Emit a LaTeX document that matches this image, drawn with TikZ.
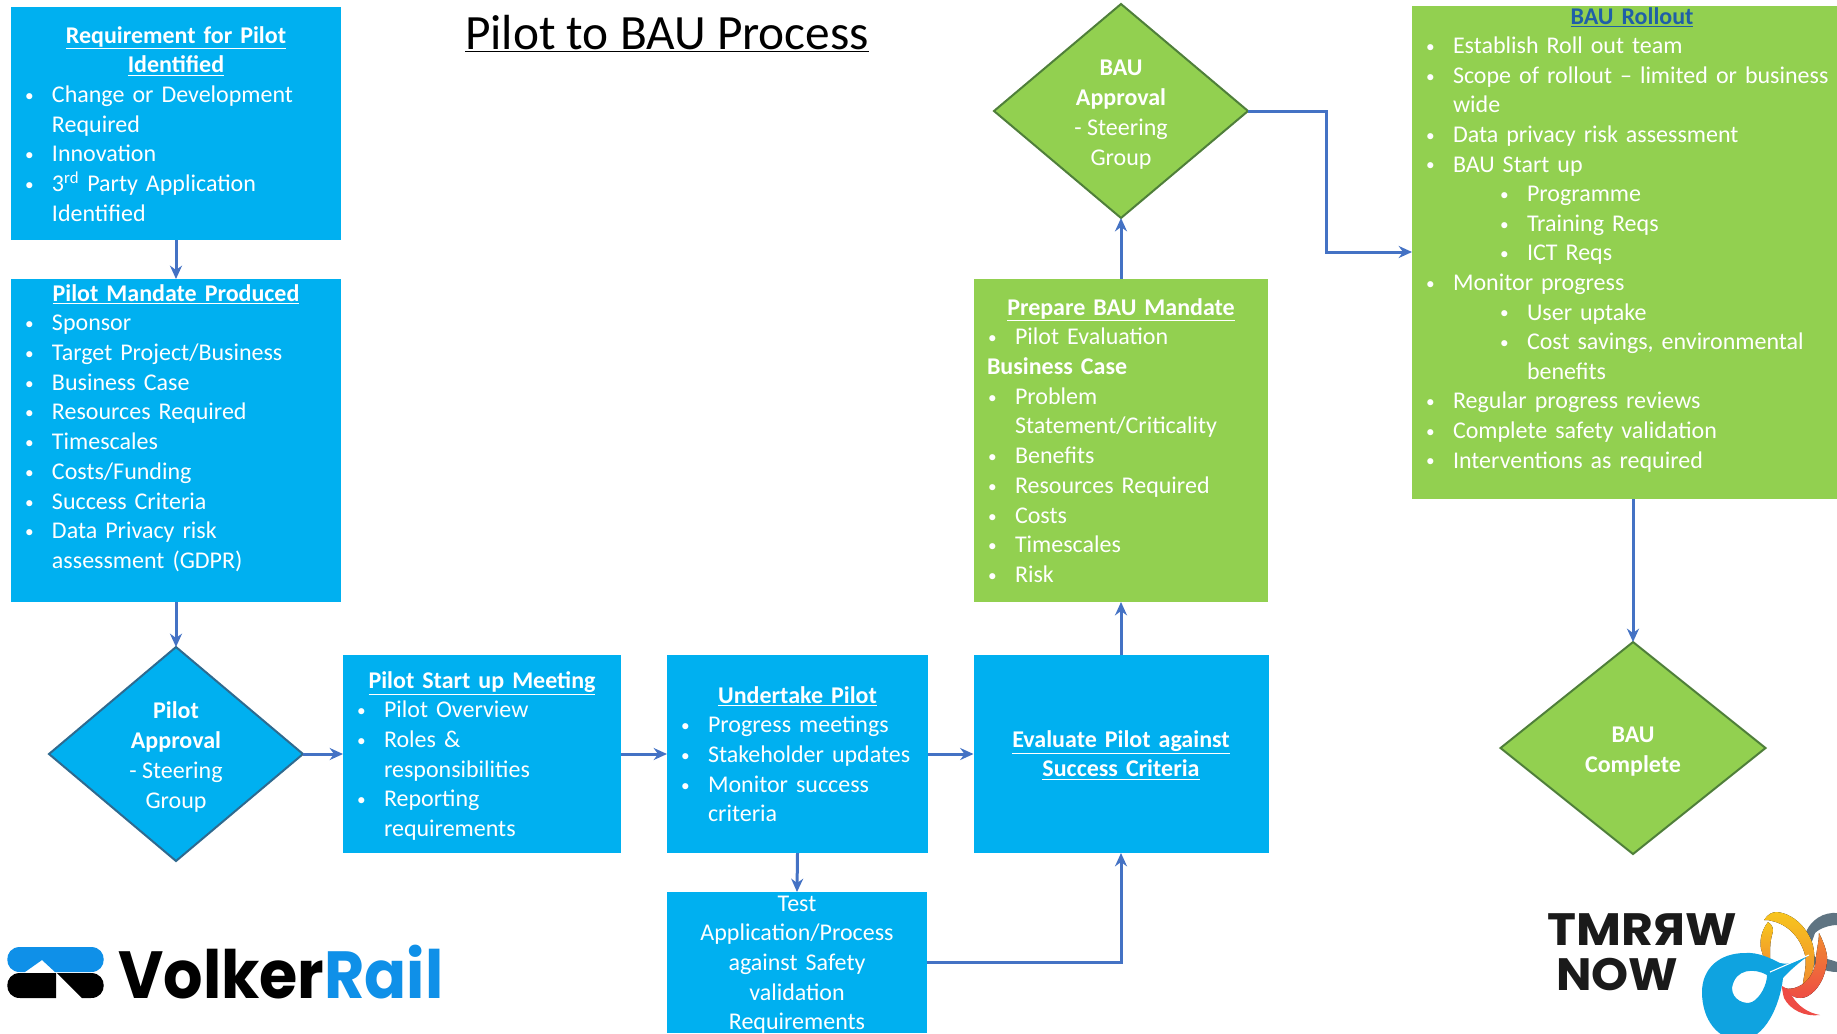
\documentclass[tikz,border=0pt]{standalone}
\usepackage{fontspec}
\usepackage{graphicx}
\usetikzlibrary{shapes.geometric,arrows.meta,calc}
\setmainfont{Carlito}
\newfontfamily\logofont{Poppins}
\newdimen\pxu \pxu=0.75pt
\definecolor{pblue}{HTML}{00B0F0}
\definecolor{pgreen}{HTML}{92D050}
\definecolor{pline}{HTML}{4472C4}
\definecolor{pedge}{HTML}{2F6A8F}
\definecolor{gedge}{HTML}{4F7F3A}
\definecolor{headblue}{HTML}{1F5FA8}
\definecolor{vrblue}{HTML}{0F90E8}
\definecolor{logoblue}{HTML}{0FA3E0}
\definecolor{logogrey}{HTML}{5F7482}
\definecolor{logoyellow}{HTML}{F7C51E}
\definecolor{logoorange}{HTML}{F08A30}
\definecolor{logored}{HTML}{EE4B45}
\definecolor{logoink}{HTML}{1A1A1A}
\newcommand{\hd}[1]{\makebox[\linewidth][c]{\textbf{\underline{#1}}}}
\newcommand{\cn}[1]{\makebox[\linewidth][c]{#1}}
\newcommand{\dotb}{\raisebox{0.8pt}{\scalebox{0.72}{•}}}
\newcommand{\bl}[1]{\hspace*{14\pxu}\makebox[27\pxu][l]{\dotb}#1}
\newcommand{\ct}[1]{\hspace*{41\pxu}#1}
\newcommand{\sbl}[1]{\hspace*{88\pxu}\makebox[27\pxu][l]{\dotb}#1}
\newcommand{\sct}[1]{\hspace*{115\pxu}#1}
\newcommand{\dstrut}{\rule{0pt}{17pt}}
\tikzset{
  x=0.75pt,y=-0.75pt,
  txt/.style={font=\fontsize{18}{22.3}\selectfont,text=white},
  bx/.style n args={3}{txt,rectangle,inner sep=0pt,outer sep=0pt,align=left,
     text width=#1*\pxu,text height=#3*\pxu,text depth=(#2-#3)*\pxu},
  bluebox/.style={fill=pblue},
  greenbox/.style={fill=pgreen},
  dia/.style={txt,diamond,aspect=1.19,inner sep=0pt,outer sep=0pt,align=center,
     minimum width=254*\pxu,minimum height=214*\pxu,line width=1.5pt},
  conn/.style={draw=pline,line width=2.25pt,-{Stealth[length=10pt,width=9pt]}},
  logotext/.style={anchor=base west,inner sep=0pt,text=logoink,font=\logofont\bfseries\fontsize{34}{34}\selectfont},
}
\begin{document}
\begin{tikzpicture}
\useasboundingbox (0,0) rectangle (1837,1033);
\fill[white] (0,0) rectangle (1837,1033);

\node[font=\fontsize{37}{42}\selectfont,text=black,anchor=base] (title) at (667,49.5) {\underline{Pilot to BAU Process}};

\node[bx={330}{233}{36},bluebox] (req) at (176,123.5) {\hd{Requirement for Pilot}\\\hd{Identified}\\
\bl{Change or Development}\\\ct{Required}\\\bl{Innovation}\\\bl{3\textsuperscript{rd} Party Application}\\\ct{Identified}};

\node[bx={330}{323}{22},bluebox] (mandate) at (176,440.5) {\hd{Pilot Mandate Produced}\\
\bl{Sponsor}\\\bl{Target Project/Business}\\\bl{Business Case}\\\bl{Resources Required}\\\bl{Timescales}\\\bl{Costs/Funding}\\\bl{Success Criteria}\\\bl{Data Privacy risk}\\\ct{assessment (GDPR)}};

\node[dia,fill=pblue,draw=pedge] (papp) at (176,754) {\dstrut\textbf{Pilot}\\\textbf{Approval}\\- Steering\\Group};

\node[bx={278}{198}{33},bluebox] (start) at (482,754) {\hd{Pilot Start up Meeting}\\
\bl{Pilot Overview}\\\bl{Roles \&}\\\ct{responsibilities}\\\bl{Reporting}\\\ct{requirements}};

\node[bx={261}{198}{48},bluebox] (under) at (797.5,754) {\hd{Undertake Pilot}\\
\bl{Progress meetings}\\\bl{Stakeholder updates}\\\bl{Monitor success}\\\ct{criteria}};

\node[bx={295}{198}{92},bluebox] (eval) at (1121,754) {\hd{Evaluate Pilot against}\\\hd{Success Criteria}};

\node[bx={260}{141}{19},bluebox] (test) at (797,962.5) {\cn{Test}\\\cn{Application/Process}\\\cn{against Safety}\\\cn{validation}\\\cn{Requirements}};

\node[bx={294}{323}{36},greenbox] (prep) at (1121,440.5) {\hd{Prepare BAU Mandate}\\
\bl{Pilot Evaluation}\\\hspace*{13\pxu}\textbf{Business Case}\\\bl{Problem}\\\ct{Statement/Criticality}\\\bl{Benefits}\\\bl{Resources Required}\\\bl{Costs}\\\bl{Timescales}\\\bl{Risk}};

\node[dia,fill=pgreen,draw=gedge] (bapp) at (1121,111) {\dstrut\textbf{BAU}\\\textbf{Approval}\\- Steering\\Group};

\node[bx={425}{493}{18},greenbox,font=\fontsize{18}{22.2}\selectfont] (roll) at (1624.5,252.5) {\makebox[\dimexpr\linewidth+15\pxu\relax][c]{\color{headblue}\textbf{\underline{BAU Rollout}}}\\
\bl{Establish Roll out team}\\\bl{Scope of rollout -- limited or business}\\\ct{wide}\\\bl{Data privacy risk assessment}\\\bl{BAU Start up}\\\sbl{Programme}\\\sbl{Training Reqs}\\\sbl{ICT Reqs}\\\bl{Monitor progress}\\\sbl{User uptake}\\\sbl{Cost savings, environmental}\\\sct{benefits}\\\bl{Regular progress reviews}\\\bl{Complete safety validation}\\\bl{Interventions as required}};

\node[dia,fill=pgreen,draw=gedge,minimum width=265*\pxu,minimum height=212*\pxu] (bcomp) at (1633,748) {\dstrut\textbf{BAU}\\\textbf{Complete}};

\coordinate (bend) at (1326,252);
\draw[conn] (req.south) -- (mandate.north);
\draw[conn] (mandate.south) -- (papp.north);
\draw[conn] (papp.east) -- (start.west);
\draw[conn] (start.east) -- (under.west);
\draw[conn] (under.east) -- (eval.west);
\draw[conn] (under.south) -- (test.north);
\draw[conn] (test.east) -| (eval.south);
\draw[conn] (eval.north) -- (prep.south);
\draw[conn] (prep.north) -- (bapp.south);
\draw[conn] (bapp.east) -| (bend) -- (roll.west |- bend);
\draw[conn] (roll.south -| bcomp.north) -- (bcomp.north);

% VolkerRail logo
\fill[vrblue] (20,947) -- (91,947) .. controls (108,947) and (108,972) .. (91,972)
  -- (55,972) -- (42,960) -- (25,972) -- (20,972) .. controls (3,972) and (3,947) .. (20,947) -- cycle;
\fill[black] (56,973) -- (20,973) .. controls (3,973) and (3,998) .. (20,998) -- (56,998) -- cycle;
\fill[black] (57,973) -- (91,973) .. controls (108,973) and (108,998) .. (91,998) -- (82,998) -- cycle;
\node[anchor=base west,inner sep=0pt,font=\logofont\bfseries\fontsize{50}{50}\selectfont] (vr) at (118,998) {\scalebox{0.93}[1]{Volker\textcolor{vrblue}{Rail}}};

% TMRRW NOW logo
\node[logotext] (tmrrw) at (1547,945) {\scalebox{1.08}[1]{TMR\reflectbox{R}W}};
\node[logotext] (now) at (1556,990) {\scalebox{1.04}[1]{NOW}};
\fill[logogrey] (1837,913) .. controls (1825,912) and (1810,918) .. (1804,937) -- (1809,952) -- (1817,958) .. controls (1825,958) and (1832,960) .. (1837,962) -- (1837,972) .. controls (1825,972) and (1812,966) .. (1806,958) -- (1815,933) .. controls (1820,928) and (1830,925) .. (1837,925) -- cycle;
\fill[top color=logoyellow,bottom color=logoorange] (1764,920) .. controls (1768,914) and (1772,912) .. (1777,912) .. controls (1797,914) and (1813,935) .. (1814,952) .. controls (1816,968) and (1810,980) .. (1802,989) .. controls (1804,975) and (1807,965) .. (1805,955) .. controls (1801,940) and (1790,925) .. (1772,921) .. controls (1770,920) and (1767,920) .. (1764,920) -- cycle;
\fill[top color=logoyellow,bottom color=logoorange] (1768,922) .. controls (1760,932) and (1759,945) .. (1762,952) .. controls (1764,960) and (1768,968) .. (1771,972) .. controls (1770,960) and (1769,945) .. (1772,935) .. controls (1774,930) and (1773,925) .. (1768,922) -- cycle;
\fill[top color=logoorange,bottom color=logored] (1819,933) .. controls (1825,945) and (1828,955) .. (1827,962) .. controls (1825,978) and (1818,990) .. (1808,996) .. controls (1798,1001) and (1790,996) .. (1784,988) .. controls (1790,990) and (1797,988) .. (1803,984) .. controls (1811,978) and (1816,968) .. (1816,957) .. controls (1817,948) and (1819,940) .. (1819,933) -- cycle;
\fill[logored] (1782,986) .. controls (1790,990) and (1790,993) .. (1792,996) .. controls (1798,1006) and (1808,1013) .. (1820,1015) .. controls (1805,1017) and (1790,1010) .. (1784,998) .. controls (1783,994) and (1782,990) .. (1782,986) -- cycle;
\fill[logoblue,even odd rule]
  (1809,955) .. controls (1795,962) and (1790,965) .. (1780,963) .. controls (1770,958) and (1758,952) .. (1745,953) .. controls (1720,953) and (1702,968) .. (1702,992) .. controls (1702,1020) and (1718,1040) .. (1740,1040) .. controls (1765,1040) and (1780,1005) .. (1783,978) .. controls (1790,970) and (1800,962) .. (1809,955) -- cycle
  (1767,975) .. controls (1755,968) and (1735,968) .. (1732,988) .. controls (1732,1000) and (1745,1005) .. (1752,1002) .. controls (1760,998) and (1767,985) .. (1767,975) -- cycle;
\draw[white,line width=0.8pt] (1770,972) -- (1809,955);
\end{tikzpicture}
\end{document}
